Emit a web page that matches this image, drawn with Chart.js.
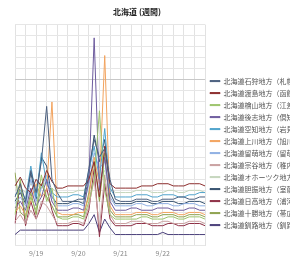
<!DOCTYPE html>
<html><head><meta charset="utf-8">
<script src="https://cdn.jsdelivr.net/npm/chart.js@4/dist/chart.umd.min.js"></script>
<style>html,body{margin:0;padding:0;background:#fff;overflow:hidden}#wrap{width:290px;height:262px;position:relative}</style>
</head><body><div id="wrap"><canvas id="c"></canvas></div>
<script>
const title = '北海道 (週間)\u3000\u3000';
const categories = ['9/18 12:00','9/18 15:00','9/18 18:00','9/18 21:00',
 '9/19 0:00','9/19 3:00','9/19 6:00','9/19 9:00','9/19 12:00','9/19 15:00','9/19 18:00','9/19 21:00',
 '9/20 0:00','9/20 3:00','9/20 6:00','9/20 9:00','9/20 12:00','9/20 15:00','9/20 18:00','9/20 21:00',
 '9/21 0:00','9/21 3:00','9/21 6:00','9/21 9:00','9/21 12:00','9/21 15:00','9/21 18:00','9/21 21:00',
 '9/22 0:00','9/22 3:00','9/22 6:00','9/22 9:00','9/22 12:00','9/22 15:00','9/22 18:00','9/22 21:00',
 '9/23 0:00'];
const tickLabels = ['9/19','9/20','9/21','9/22'];
const seriesNames = ['北海道石狩地方（札幌）','北海道渡島地方（函館）','北海道檜山地方（江差）','北海道後志地方（倶知安）',
 '北海道空知地方（岩見沢）','北海道上川地方（旭川）','北海道留萌地方（留萌）','北海道宗谷地方（稚内）',
 '北海道オホーツク地方','北海道胆振地方（室蘭）','北海道日高地方（浦河）','北海道十勝地方（帯広）','北海道釧路地方（釧路）'];
const s1  = [22,28,20,34,24,38,63,30,24,20,20,20,21,21,35,48,40,44,30,21,20,20,20,21,21,21,20,20,21,21,21,22,22,21,21,22,22];
const s2  = [27,31,26,24,30,27,34,29,26,26,27,27,27,27,30,38,22,45,28,26,26,26,26,26,27,27,27,28,28,28,27,27,27,28,28,28,27];
const s3  = [14,30,12,22,16,32,20,26,13,12,12,13,13,12,20,30,61,25,14,12,12,12,12,12,13,13,12,12,12,13,13,12,12,13,13,13,12];
const s4  = [17,20,16,26,18,22,30,20,16,16,16,17,17,16,30,94,25,40,20,16,16,16,17,17,16,16,16,17,17,17,16,16,16,17,17,16,16];
const s5  = [23,25,21,36,22,42,28,24,22,22,22,23,23,22,34,45,30,53,26,22,22,22,22,23,23,23,22,22,23,23,23,22,22,23,23,24,24];
const s6  = [15,18,14,20,28,22,25,65,15,14,14,14,15,15,22,40,28,86,18,14,14,14,14,15,15,15,14,14,15,15,15,14,14,15,15,15,14];
const s7  = [19,22,18,30,20,26,32,22,18,18,18,19,19,18,28,42,35,38,22,18,18,18,18,19,19,18,18,19,19,19,18,18,19,19,19,18,18];
const s8  = [11,14,10,16,12,20,18,14,10,10,10,11,11,10,18,30,8,32,14,10,10,10,11,11,11,10,10,10,11,11,10,10,10,11,11,11,10];
const s9  = [25,26,24,28,25,30,27,26,24,24,24,24,25,25,28,36,30,34,26,24,24,24,24,25,25,25,24,24,24,25,25,24,24,25,25,25,24];
const s10 = [20,24,19,33,21,40,36,22,19,19,19,20,20,19,32,50,38,48,24,19,19,19,19,20,20,20,19,19,20,20,20,19,19,20,20,20,19];
const s11 = [10,29,9,20,12,18,26,16,9,9,9,10,10,9,16,35,4,28,12,9,9,9,9,10,10,10,9,9,9,10,10,9,9,10,10,10,9];
const s12 = [33,15,13,24,14,28,22,18,13,13,13,14,14,13,24,38,20,42,16,13,13,13,13,14,14,14,13,13,14,14,14,13,13,14,14,14,13];
const s13 = [5,7,7,7,7,7,7,7,7,7,7,7,7,7,10,14,6,12,8,5,5,5,5,5,5,5,5,5,6,5,5,5,5,5,5,5,5];
const seriesValues = [s1,s2,s3,s4,s5,s6,s7,s8,s9,s10,s11,s12,s13];
const colors = ['#4b5f7e','#8c2d2d','#9cc46c','#6e5c9e','#4fa3cc','#f2a35e','#8fb0e3','#c9a0a0','#c5d6bd','#34506e','#8e2f45','#8ea24e','#4a3f7a'];

const datasets = seriesValues.map((v,i)=>({
  label: seriesNames[i], data: v, borderColor: colors[i], backgroundColor: colors[i],
  borderWidth: 1, pointRadius: 0, tension: 0, fill: false
}));

new Chart(document.getElementById('c'), {
  type: 'line',
  data: { labels: categories, datasets },
  options: {
    responsive: true, maintainAspectRatio: false, animation: false,
    layout: { padding: { left: 0, right: 0, top: 0, bottom: 0 } },
    plugins: {
      title: { display: true, text: title, color: '#222', font: { family: 'Noto Sans CJK JP', size: 8, weight: 'bold' }, padding: { top: 7, bottom: 8 } },
      legend: { position: 'right', maxWidth: 85,
        title: { display: true, text: ' ', font: { size: 1 }, padding: { top: 43, bottom: 0 } },
        labels: { boxWidth: 10, boxHeight: 1, padding: 5, color: '#555', font: { family: 'Noto Sans CJK JP', size: 7 } } },
      tooltip: { enabled: false }
    },
    scales: {
      x: {
        grid: { color: (ctx)=> ctx.index % 2 === 0 ? '#e2e2e2' : 'rgba(0,0,0,0)', drawTicks: false },
        border: { display: false },
        ticks: { autoSkip: false, maxRotation: 0, padding: 4, color: '#888', font: { family: 'Noto Sans CJK JP', size: 7 },
          callback: function(val, idx){ const c = categories[idx]; if (c.endsWith(' 0:00')) { const d = c.split(' ')[0]; return tickLabels.includes(d) ? d : ''; } return ''; } }
      },
      y: {
        min: 0, max: 100,
        afterFit: (axis)=>{ axis.width = 15; },
        grid: { color: (ctx)=> ctx.tick && ctx.tick.value === 75 ? '#c8c8c8' : '#e6e6e6', drawTicks: false },
        border: { display: false },
        ticks: { display: false, stepSize: 5 }
      }
    }
  }
});
</script></body></html>
